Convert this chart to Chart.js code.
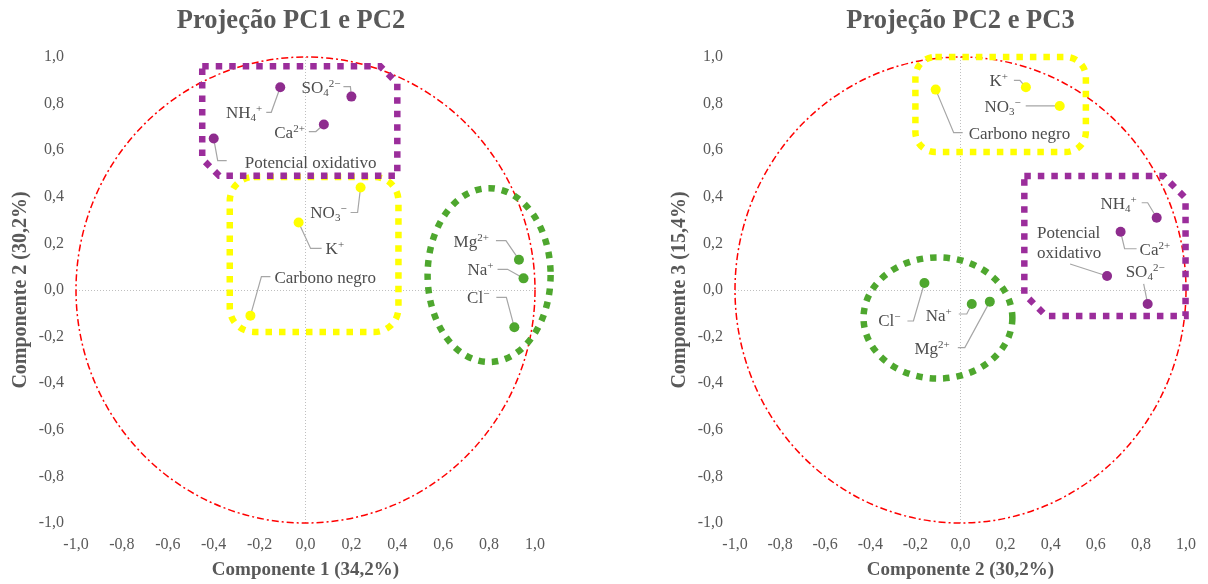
<!DOCTYPE html>
<html lang="pt">
<head>
<meta charset="utf-8">
<title>Projeções PCA</title>
<script src="https://cdn.jsdelivr.net/npm/chart.js@4.4.1/dist/chart.umd.min.js"></script>
<style>
  html, body { margin: 0; padding: 0; background: #fff; }
  body { width: 1208px; height: 584px; position: relative; overflow: hidden; }
  #pc12 { position: absolute; left: 0; top: 0; }
  #pc23 { position: absolute; left: 600px; top: 0; }
</style>
</head>
<body>
<canvas id="pc12" width="582" height="584"></canvas>
<canvas id="pc23" width="608" height="584"></canvas>
<script>
// --- Dados: cargas das variáveis nas componentes ---
const variaveis = ['NH_4^+', 'SO_4^2−', 'Ca^2+', 'Potencial oxidativo', 'NO_3^−', 'K^+', 'Carbono negro', 'Mg^2+', 'Na^+', 'Cl^−'];
const grupo = ['roxo', 'roxo', 'roxo', 'roxo', 'amarelo', 'amarelo', 'amarelo', 'verde', 'verde', 'verde'];
const pc1 = [-0.11, 0.20, 0.08, -0.40, 0.24, -0.03, -0.24, 0.93, 0.95, 0.91];
const pc2 = [0.87, 0.83, 0.71, 0.65, 0.44, 0.29, -0.11, 0.13, 0.05, -0.16];
const pc3 = [0.31, -0.06, 0.25, 0.06, 0.79, 0.87, 0.86, -0.05, -0.06, 0.03];
const marcas = [-1, -0.8, -0.6, -0.4, -0.2, 0, 0.2, 0.4, 0.6, 0.8, 1];

const cores = { roxo: '#8E2C8E', amarelo: '#FFFF00', verde: '#4EA72E' };
const fonte = '"Liberation Serif", "Times New Roman", serif';

// --- Contornos dos agrupamentos (unidades dos eixos) ---
const contornosPC12 = [
    { tipo: 'arred', cor: '#FFFF00', x1: -0.33, x2: 0.405, y1: 0.485, y2: -0.18, r: 24 },
    { tipo: 'chanfro', cor: '#9B2D9B', x1: -0.45, x2: 0.40, y1: 0.96, y2: 0.49, c: 17 },
    { tipo: 'elipse', cor: '#4EA72E', cx: 0.80, cy: 0.064, rx: 0.268, ry: 0.373 }
];
const contornosPC23 = [
    { tipo: 'arred', cor: '#FFFF00', x1: -0.20, x2: 0.556, y1: 1.0, y2: 0.592, r: 20 },
    { tipo: 'elipse', cor: '#4EA72E', cx: -0.10, cy: -0.12, rx: 0.33, ry: 0.26 },
    { tipo: 'chanfro', cor: '#9B2D9B', x1: 0.283, x2: 0.998, y1: 0.489, y2: -0.112, c: 22 }
];

// --- Rótulos: deslocamento (px) a partir do ponto e linha de chamada ---
const rotulosPC12 = [
    { dx: -18, dy: 25, al: 'right', guia: [[-14, 25], [-9, 25]] },
    { dx: -11, dy: -10, al: 'right', guia: [[-8, -10], [-1, -10]] },
    { dx: -19, dy: 7, al: 'right', guia: [[-15, 7], [-8, 7]] },
    { dx: 31, dy: 23, al: 'left', guia: [[13, 22], [4, 22]] },
    { dx: -14, dy: 25, al: 'right', guia: [[-10, 25], [-3, 25]] },
    { dx: 27, dy: 26, al: 'left', guia: [[23, 26], [12, 26]] },
    { dx: 24, dy: -39, al: 'left', guia: [[20, -39], [11, -39]] },
    { dx: -30, dy: -19, al: 'right', guia: [[-23, -19], [-13, -19]] },
    { dx: -30, dy: -9, al: 'right', guia: [[-26, -9], [-16, -9]] },
    { dx: -25, dy: -30, al: 'right', guia: [[-18, -30], [-8, -30]] }
];
const rotulosPC23 = [
    { dx: -20, dy: -15, al: 'right', guia: [[-15, -15], [-9, -15]] },
    { dx: -22, dy: -33, al: 'left', guia: [[-4, -20]] },
    { dx: 19, dy: 17, al: 'left', guia: [[16, 17], [4, 17]] },
    { dx: -70, dy: -44, al: 'left', quebra: true, guia: [[-37, -12]] },
    { dx: -39, dy: 0, al: 'right', guia: [[-34, 0]] },
    { dx: -18, dy: -7, al: 'right', guia: [[-12, -7], [-6, -7]] },
    { dx: 33, dy: 43, al: 'left', guia: [[27, 43], [18, 43]] },
    { dx: -40, dy: 46, al: 'right', guia: [[-32, 46], [-25, 46]] },
    { dx: -20, dy: 11, al: 'right', guia: [[-13, 10], [-5, 10]] },
    { dx: -24, dy: 37, al: 'right', guia: [[-17, 38], [-11, 38]] }
];

// --- Funções auxiliares ---
function fmt(v) {
    if (Math.abs(v) < 1e-9) v = 0;
    return v.toFixed(1).replace('.', ',');
}

// separa o texto em pedaços normais, subscritos (_x) e sobrescritos (^xx)
function pedacos(txt) {
    return txt.split(/(_.|\^[^_^]+)/).filter(s => s).map(s => {
        if (s[0] === '_') return { t: s.slice(1), tipo: 'sub' };
        if (s[0] === '^') return { t: s.slice(1), tipo: 'sup' };
        return { t: s, tipo: 'n' };
    });
}

function escreve(ctx, txt, x, y, al) {
    const ps = pedacos(txt);
    const f = p => p.tipo === 'n' ? `17px ${fonte}` : `11px ${fonte}`;
    let w = 0;
    ps.forEach(p => { ctx.font = f(p); p.w = ctx.measureText(p.t).width; w += p.w; });
    let cx = al === 'right' ? x - w : x;
    ctx.textAlign = 'left';
    ctx.textBaseline = 'alphabetic';
    ps.forEach(p => {
        ctx.font = f(p);
        const dy = p.tipo === 'sub' ? 3 : (p.tipo === 'sup' ? -6 : 0);
        ctx.fillText(p.t, cx, y + 6 + dy);
        cx += p.w;
    });
}

function conjuntos(xs, ys) {
    return Object.keys(cores).map(g => ({
        label: g,
        data: variaveis.map((v, i) => ({ x: xs[i], y: ys[i], g: grupo[i] })).filter(p => p.g === g),
        backgroundColor: cores[g],
        borderColor: cores[g],
        borderWidth: 0,
        pointRadius: 5,
        pointHoverRadius: 5
    }));
}

function eixo(titulo, ehY) {
    return {
        type: 'linear', min: -1, max: 1,
        afterBuildTicks: s => { s.ticks = marcas.map(v => ({ value: v })); },
        afterFit: s => { if (ehY) s.width = 76; else s.height = 61; },
        ticks: {
            color: '#595959', font: { family: fonte, size: 16 }, padding: 12,
            maxRotation: 0, autoSkip: false, callback: v => fmt(v)
        },
        grid: {
            drawTicks: false, lineWidth: 1,
            color: c => (c.tick && Math.abs(c.tick.value) < 1e-9) ? '#BFBFBF' : 'transparent'
        },
        border: { display: false, dash: [1, 2] },
        title: {
            display: true, text: titulo, color: '#595959',
            font: { family: fonte, size: ehY ? 20 : 19, weight: 'bold' },
            padding: ehY ? { top: 9, bottom: 0 } : { top: 0, bottom: 3 }
        }
    };
}

// círculo de correlação, contornos, chamadas e rótulos
function extras(contornos, rotulos, xs, ys) {
    return {
        id: 'extras',
        beforeDatasetsDraw(chart) {
            const { ctx, scales: { x, y } } = chart;
            const px = v => x.getPixelForValue(v);
            const py = v => y.getPixelForValue(v);

            ctx.save();
            ctx.strokeStyle = '#FF0000';
            ctx.lineWidth = 1.5;
            ctx.setLineDash([7, 3, 2, 3]);
            ctx.beginPath();
            ctx.ellipse(px(0), py(0), px(1) - px(0), py(0) - py(1), 0, 0, Math.PI * 2);
            ctx.stroke();

            ctx.lineWidth = 6.5;
            ctx.setLineDash([6.5, 7]);
            contornos.forEach(c => {
                ctx.strokeStyle = c.cor;
                ctx.beginPath();
                if (c.tipo === 'elipse') {
                    ctx.ellipse(px(c.cx), py(c.cy), px(c.rx) - px(0), py(0) - py(c.ry), 0, 0, Math.PI * 2);
                } else if (c.tipo === 'arred') {
                    ctx.roundRect(px(c.x1), py(c.y1), px(c.x2) - px(c.x1), py(c.y2) - py(c.y1), c.r);
                } else {
                    const a = px(c.x1), b = px(c.x2), t = py(c.y1), u = py(c.y2);
                    ctx.moveTo(a, t);
                    ctx.lineTo(b - c.c, t);
                    ctx.lineTo(b, t + c.c);
                    ctx.lineTo(b, u);
                    ctx.lineTo(a + c.c, u);
                    ctx.lineTo(a, u - c.c);
                    ctx.closePath();
                }
                ctx.stroke();
            });

            ctx.setLineDash([]);
            ctx.strokeStyle = '#A6A6A6';
            ctx.lineWidth = 1.2;
            ctx.fillStyle = '#4D4D4D';
            rotulos.forEach((r, i) => {
                const ox = px(xs[i]), oy = py(ys[i]);
                ctx.beginPath();
                r.guia.forEach((g, k) => {
                    if (k === 0) ctx.moveTo(ox + g[0], oy + g[1]);
                    else ctx.lineTo(ox + g[0], oy + g[1]);
                });
                ctx.lineTo(ox, oy);
                ctx.stroke();
                if (r.quebra) {
                    variaveis[i].split(' ').forEach((l, k) => escreve(ctx, l, ox + r.dx, oy + r.dy + k * 20, r.al));
                } else {
                    escreve(ctx, variaveis[i], ox + r.dx, oy + r.dy, r.al);
                }
            });
            ctx.restore();
        }
    };
}

// margemDir: espaço vazio à direita (eixo invisível) para o título ficar centrado no quadro todo
function grafico(id, titulo, tituloX, tituloY, xs, ys, contornos, rotulos, padding, margemDir) {
    const scales = { x: eixo(tituloX, false), y: eixo(tituloY, true) };
    if (margemDir) {
        scales.y2 = {
            position: 'right', display: true,
            ticks: { display: false }, grid: { display: false }, border: { display: false },
            afterFit: s => { s.width = margemDir; }
        };
    }
    return new Chart(document.getElementById(id), {
        type: 'scatter',
        data: { datasets: conjuntos(xs, ys) },
        options: {
            responsive: false, animation: false,
            layout: { padding: padding },
            plugins: {
                legend: { display: false },
                tooltip: { enabled: false },
                title: {
                    display: true, text: titulo, color: '#595959', fullSize: !!margemDir,
                    font: { family: fonte, size: 26.5, weight: 'bold' },
                    padding: { top: 5, bottom: 20.2 }
                }
            },
            scales: scales
        },
        plugins: [extras(contornos, rotulos, xs, ys)]
    });
}

grafico('pc12', 'Projeção PC1 e PC2', 'Componente 1 (34,2%)', 'Componente 2 (30,2%)',
    pc1, pc2, contornosPC12, rotulosPC12, { left: 0, right: 0, top: 0, bottom: 0 }, 47);
grafico('pc23', 'Projeção PC2 e PC3', 'Componente 2 (30,2%)', 'Componente 3 (15,4%)',
    pc2, pc3, contornosPC23, rotulosPC23, { left: 59, right: 20, top: 0, bottom: 0 }, 0);
</script>
</body>
</html>
